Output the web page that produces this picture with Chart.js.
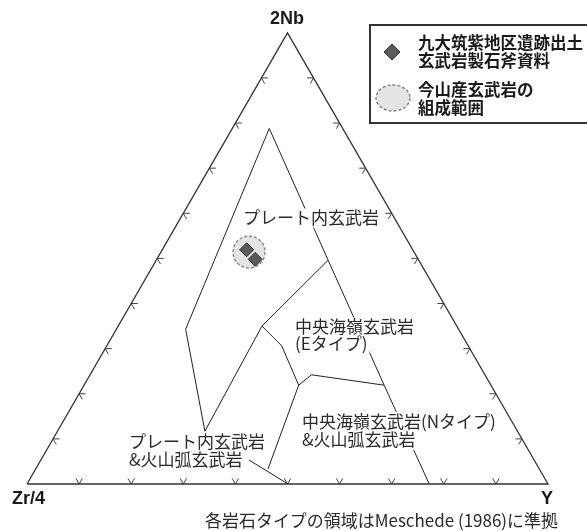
<!DOCTYPE html>
<html>
<head>
<meta charset="utf-8">
<script src="https://cdn.jsdelivr.net/npm/chart.js@4.4.0/dist/chart.umd.min.js"></script>
<style>
  html, body { margin: 0; padding: 0; background: #fff; }
  canvas { display: block; }
</style>
</head>
<body>
<canvas id="myChart" width="587" height="531"></canvas>
<script>
'use strict';

// every point is [2Nb, Zr/4, Y] in percent
let cornerNames = ['2Nb', 'Zr/4', 'Y'];
let tickSteps = [10, 20, 30, 40, 50, 60, 70, 80, 90];

let specimenPoints = [[51.9, 31.9, 16.2], [49.8, 31.3, 18.9]];
let imayamaRange = [[51.4, 31.7, 16.9]];

// Meschede (1986) field boundaries
let withinPlateLine = [[78.8, 14.1, 7.1], [34.3, 52.4, 13.3], [11.7, 60.0, 28.3], [35.0, 37.4, 27.6], [49.6, 17.4, 33.0]];
let rightLine = [[78.8, 14.1, 7.1], [49.6, 17.4, 33.0], [21.9, 20.5, 57.6], [0, 22.8, 77.2]];
let middleLine = [[35.0, 37.4, 27.6], [30.6, 35.8, 33.6], [21.9, 36.9, 41.2], [3.3, 52.1, 44.6]];
let eTypeLowerLine = [[21.9, 36.9, 41.2], [24.2, 33.3, 42.5], [21.9, 20.5, 57.6]];

let boundaryLines = [withinPlateLine, rightLine, middleLine, eTypeLowerLine];

let legendLabels = [['九大筑紫地区遺跡出土', '玄武岩製石斧資料'], ['今山産玄武岩の', '組成範囲']];

function toXY(p) {
  let sum = p[0] + p[1] + p[2];
  let c = p[0] / sum;
  let b = p[2] / sum;
  return { x: b + c / 2, y: c * Math.sqrt(3) / 2 };
}

// dashed grey disc used for the Imayama range
function makeRangeStyle(r) {
  let cv = document.createElement('canvas');
  cv.width = r * 2 + 4;
  cv.height = r * 2 + 4;
  let c = cv.getContext('2d');
  c.beginPath();
  c.arc(r + 2, r + 2, r, 0, Math.PI * 2);
  c.fillStyle = '#e4e4e4';
  c.fill();
  c.setLineDash([3, 2]);
  c.lineWidth = 1.3;
  c.strokeStyle = '#7a7a7a';
  c.stroke();
  return cv;
}

const jp = '"Noto Sans CJK JP", sans-serif';

function labelWithBg(ctx, lines, x, y, lineH, font) {
  ctx.font = font;
  ctx.textAlign = 'left';
  ctx.textBaseline = 'middle';
  for (let i = 0; i < lines.length; i++) {
    let w = ctx.measureText(lines[i]).width;
    ctx.fillStyle = '#fff';
    ctx.fillRect(x - 2, y + i * lineH - lineH / 2 - 1, w + 4, lineH + 2);
  }
  ctx.fillStyle = '#2a2a2a';
  for (let i = 0; i < lines.length; i++) {
    ctx.fillText(lines[i], x, y + i * lineH);
  }
}

const ternaryDecor = {
  id: 'ternaryDecor',
  beforeDatasetsDraw(chart) {
    let ctx = chart.ctx;
    let sx = chart.scales.x;
    let sy = chart.scales.y;
    let sides = [
      { from: [0, 100, 0], to: [100, 0, 0], arms: [[1, 0], [0.5, 0.866]] },
      { from: [0, 100, 0], to: [0, 0, 100], arms: [[0.5, -0.866], [-0.5, -0.866]] },
      { from: [0, 0, 100], to: [100, 0, 0], arms: [[-1, 0], [-0.5, 0.866]] }
    ];
    ctx.save();
    ctx.strokeStyle = '#444';
    ctx.lineWidth = 1;
    sides.forEach(function (s) {
      tickSteps.forEach(function (t) {
        let p = [0, 1, 2].map(function (k) { return s.from[k] + (s.to[k] - s.from[k]) * t / 100; });
        let q = toXY(p);
        let px = sx.getPixelForValue(q.x);
        let py = sy.getPixelForValue(q.y);
        ctx.beginPath();
        s.arms.forEach(function (a) {
          ctx.moveTo(px, py);
          ctx.lineTo(px + a[0] * 6.5, py + a[1] * 6.5);
        });
        ctx.stroke();
      });
    });
    ctx.restore();
  },
  afterDatasetsDraw(chart) {
    let ctx = chart.ctx;
    ctx.save();

    // field labels
    labelWithBg(ctx, ['プレート内玄武岩'], 243, 218, 17, '17px ' + jp);
    labelWithBg(ctx, ['中央海嶺玄武岩', '(Eタイプ)'], 295, 327, 17, '17px ' + jp);
    labelWithBg(ctx, ['中央海嶺玄武岩(Nタイプ)', '&火山弧玄武岩'], 302, 422, 18, '17px ' + jp);
    labelWithBg(ctx, ['プレート内玄武岩', '&火山弧玄武岩'], 129, 442, 18, '17px ' + jp);

    // leader line
    ctx.strokeStyle = '#222';
    ctx.lineWidth = 1;
    ctx.beginPath();
    ctx.moveTo(249, 460);
    ctx.lineTo(288, 484);
    ctx.stroke();

    // corner labels
    ctx.fillStyle = '#1a1a1a';
    ctx.font = 'bold 18px "Liberation Sans", Arial, sans-serif';
    ctx.textBaseline = 'middle';
    ctx.textAlign = 'center';
    ctx.fillText(cornerNames[0], 287, 19);
    ctx.textAlign = 'left';
    ctx.fillText(cornerNames[1], 12, 499);
    ctx.textAlign = 'center';
    ctx.fillText(cornerNames[2], 547, 499);

    // footnote
    ctx.font = '17px ' + jp;
    ctx.textAlign = 'left';
    ctx.fillStyle = '#2a2a2a';
    ctx.fillText('各岩石タイプの領域はMeschede (1986)に準拠', 205, 521, 353);

    // legend
    ctx.strokeStyle = '#333';
    ctx.lineWidth = 2;
    ctx.fillStyle = '#fff';
    ctx.fillRect(370, 25, 230, 98);
    ctx.strokeRect(370, 25, 230, 98);

    ctx.beginPath();
    ctx.moveTo(392, 44);
    ctx.lineTo(400, 52);
    ctx.lineTo(392, 60);
    ctx.lineTo(384, 52);
    ctx.closePath();
    ctx.fillStyle = '#5a5a5a';
    ctx.fill();
    ctx.lineWidth = 1;
    ctx.strokeStyle = '#333';
    ctx.stroke();

    ctx.beginPath();
    ctx.ellipse(393, 98, 17, 13, 0, 0, Math.PI * 2);
    ctx.fillStyle = '#e4e4e4';
    ctx.fill();
    ctx.setLineDash([3, 2]);
    ctx.lineWidth = 1.3;
    ctx.strokeStyle = '#7a7a7a';
    ctx.stroke();
    ctx.setLineDash([]);

    ctx.fillStyle = '#1a1a1a';
    ctx.font = 'bold 16.5px ' + jp;
    ctx.textAlign = 'left';
    ctx.fillText(legendLabels[0][0], 418, 43);
    ctx.fillText(legendLabels[0][1], 418, 61);
    ctx.fillText(legendLabels[1][0], 418, 90);
    ctx.fillText(legendLabels[1][1], 418, 108);

    ctx.restore();
  }
};

let datasets = [];

datasets.push({
  label: '九大筑紫地区遺跡出土玄武岩製石斧資料',
  data: specimenPoints.map(toXY),
  pointStyle: 'rectRot',
  pointRadius: 7,
  backgroundColor: '#5a5a5a',
  borderColor: '#303030',
  borderWidth: 1,
  order: 0
});

datasets.push({
  label: '今山産玄武岩の組成範囲',
  data: imayamaRange.map(toXY),
  pointStyle: makeRangeStyle(16),
  pointRadius: 16,
  order: 1
});

datasets.push({
  label: 'frame',
  type: 'line',
  data: [[0, 100, 0], [0, 0, 100], [100, 0, 0], [0, 100, 0]].map(toXY),
  borderColor: '#333',
  borderWidth: 1.3,
  pointRadius: 0,
  fill: false,
  tension: 0,
  order: 3
});

boundaryLines.forEach(function (line, i) {
  datasets.push({
    label: 'field' + i,
    type: 'line',
    data: line.map(toXY),
    borderColor: '#222',
    borderWidth: 1,
    pointRadius: 0,
    fill: false,
    tension: 0,
    order: 2
  });
});

const config = {
  type: 'scatter',
  data: { datasets: datasets },
  options: {
    responsive: false,
    animation: false,
    layout: { padding: 0, autoPadding: false },
    plugins: {
      legend: { display: false },
      tooltip: { enabled: false }
    },
    scales: {
      x: { type: 'linear', display: false, min: -27 / 521, max: 560 / 521 },
      y: { type: 'linear', display: false, min: -47 / 521, max: 484 / 521 }
    }
  },
  plugins: [ternaryDecor]
};

let myChart = new Chart(document.getElementById('myChart'), config);
</script>
</body>
</html>
